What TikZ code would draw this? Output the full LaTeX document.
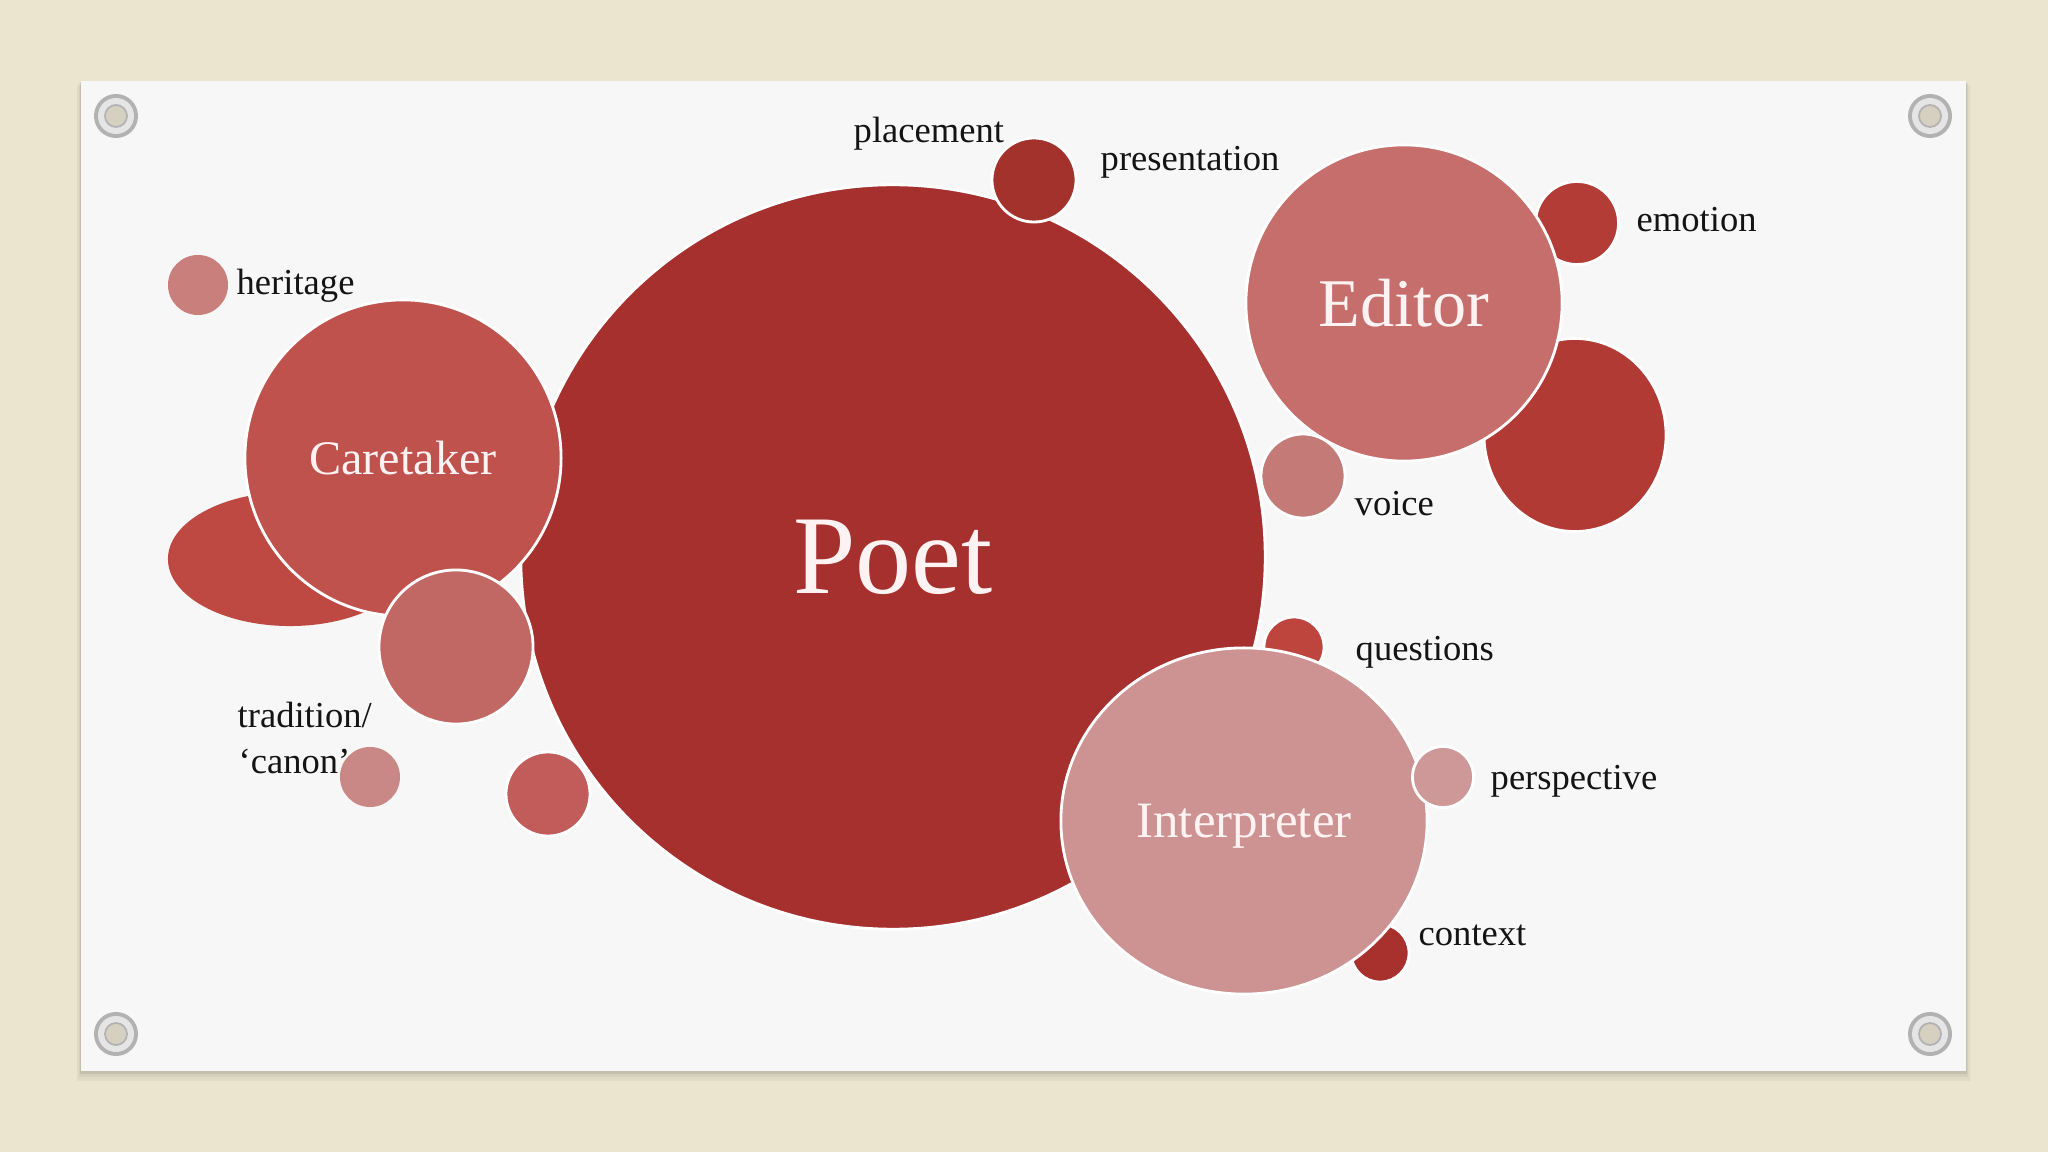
\documentclass[tikz,border=0pt]{standalone}
\usepackage{fontspec}
\setmainfont{Liberation Serif}
\usetikzlibrary{shapes.geometric}
\definecolor{canvas}{RGB}{235,228,207}
\definecolor{paper}{RGB}{248,247,248}
\definecolor{poetred}{RGB}{165,48,45}
\definecolor{caretred}{RGB}{192,82,78}
\definecolor{ovalred}{RGB}{190,73,66}
\definecolor{tradred}{RGB}{194,104,100}
\definecolor{dotred}{RGB}{193,92,90}
\definecolor{canonpink}{RGB}{201,136,134}
\definecolor{heritpink}{RGB}{201,128,125}
\definecolor{placered}{RGB}{163,50,45}
\definecolor{editred}{RGB}{198,110,107}
\definecolor{emored}{RGB}{180,60,55}
\definecolor{rightred}{RGB}{178,58,53}
\definecolor{voicepink}{RGB}{196,122,118}
\definecolor{questred}{RGB}{190,68,62}
\definecolor{interppink}{RGB}{205,146,146}
\definecolor{persppink}{RGB}{206,152,152}
\definecolor{contextred}{RGB}{168,48,45}

\begin{document}
\begin{tikzpicture}[x=0.01cm,y=-0.01cm,
        bubble/.style={circle,draw=white,line width=0.8pt,inner sep=0pt},
        oval/.style={ellipse,draw=white,line width=0.8pt,inner sep=0pt},
        lbl/.style={anchor=base west,inner sep=0pt,text=black!92,font=\fontsize{10.4}{12}\selectfont},
        bigtxt/.style={text=white!95!red,text depth=0pt}]
                \useasboundingbox (0,0) rectangle (2048,1152);
                \fill[canvas] (0,0) rectangle (2048,1152);
                \fill[black,opacity=0.04] (77,85) rectangle (1970,1081);
                \fill[black,opacity=0.05] (79,83) rectangle (1968,1077);
                \fill[black,opacity=0.07] (80,82) rectangle (1967,1074);
                \fill[paper] (81,81) rectangle (1966,1071);
                \foreach \gx/\gy in {116/116, 1930/116, 116/1034, 1930/1034}{
                    \fill[gray!60] (\gx,\gy) circle[radius=0.22cm];
                    \fill[gray!20] (\gx,\gy) circle[radius=0.18cm];
                    \fill[canvas!80!gray] (\gx,\gy) circle[radius=0.11cm];
                    \draw[gray!60,line width=0.5pt] (\gx,\gy) circle[radius=0.11cm];
                }
                \node[oval,fill=ovalred,draw=none,minimum width=2.44cm,minimum height=1.34cm] (caretoval) at (290,559) {};
                \node[bubble,fill=heritpink,draw=none,minimum size=0.6cm] (heritdot) at (198,285) {};
                \node[bubble,fill=canonpink,draw=none,minimum size=0.6cm] (canondot) at (370,777) {};
                \node[bubble,fill=poetred,minimum size=7.44cm,font=\fontsize{31.9}{36}\selectfont,bigtxt] (poet) at (893,557) {Poet};
                \node[bubble,fill=caretred,minimum size=3.16cm,font=\fontsize{13.7}{16}\selectfont,bigtxt] (caretaker) at (403,458) {Caretaker};
                \node[bubble,fill=tradred,minimum size=1.54cm] (traddot) at (456,647) {};
                \node[bubble,fill=dotred,minimum size=0.84cm] (lowdot) at (548,794) {};
                \node[bubble,fill=placered,minimum size=0.84cm] (placedot) at (1034,180) {};
                \node[bubble,fill=emored,minimum size=0.83cm] (emodot) at (1577,223) {};
                \node[oval,fill=rightred,minimum width=1.82cm,minimum height=1.93cm] (rightoval) at (1575,435) {};
                \node[bubble,fill=voicepink,minimum size=0.84cm] (voicedot) at (1303,476) {};
                \node[bubble,fill=editred,minimum size=3.16cm,font=\fontsize{19.4}{22}\selectfont,bigtxt] (editor) at (1404,303) {Editor};
                \node[bubble,fill=questred,minimum size=0.6cm] (questdot) at (1294,647) {};
                \node[bubble,fill=contextred,minimum size=0.58cm] (contextdot) at (1380,953) {};
                \node[oval,fill=interppink,minimum width=3.66cm,minimum height=3.46cm,font=\fontsize{14.5}{17}\selectfont,bigtxt] (interp) at (1244,821) {Interpreter};
                \node[bubble,fill=persppink,minimum size=0.61cm] (perspdot) at (1443,777) {};
                \node[lbl] (herittxt) at (236,295) {heritage};
                \node[lbl] (tradtxt) at (237,727) {tradition/};
                \node[lbl] (canontxt) at (238,773) {‘canon’};
                \node[lbl] (placetxt) at (853,143) {placement};
                \node[lbl] (presenttxt) at (1100,171) {presentation};
                \node[lbl] (emotxt) at (1636,232) {emotion};
                \node[lbl] (voicetxt) at (1354,515) {voice};
                \node[lbl] (questtxt) at (1355,660) {questions};
                \node[lbl] (persptxt) at (1490,789) {perspective};
                \node[lbl] (contexttxt) at (1418,945) {context};
            \end{tikzpicture}
\end{document}
